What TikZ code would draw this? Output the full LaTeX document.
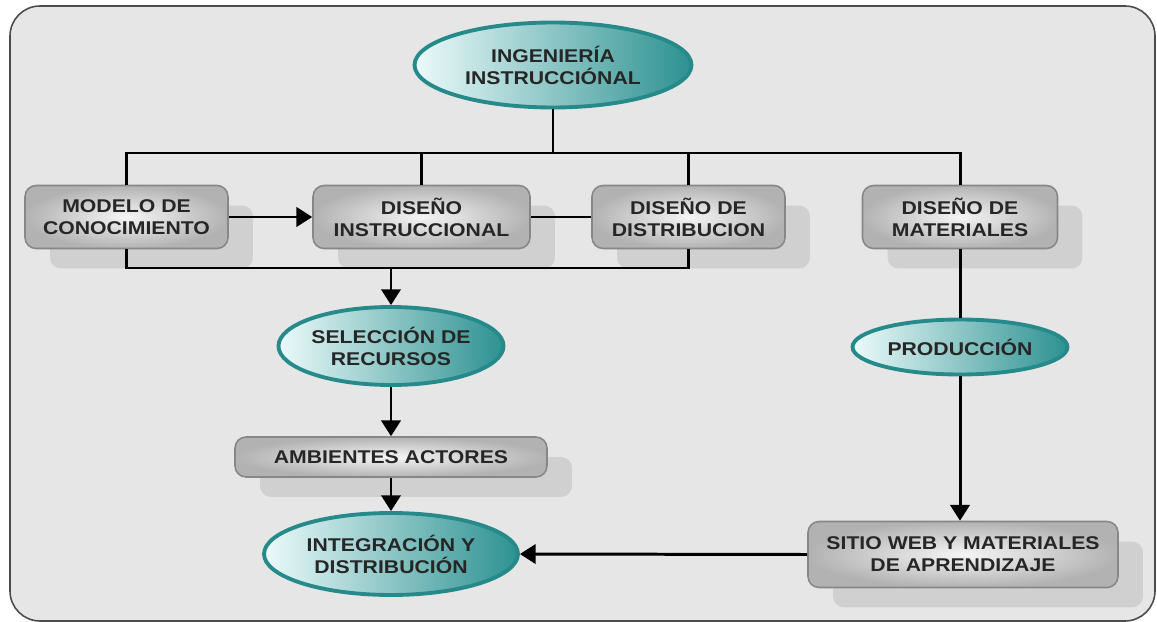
\documentclass[tikz,border=0pt]{standalone}
\usepackage{fontspec}
\setmainfont{Liberation Sans}[FakeStretch=1.15]
\usetikzlibrary{arrows.meta,shapes.geometric,shadows}
\definecolor{tealborder}{RGB}{38,138,138}
\definecolor{teallight}{RGB}{236,250,250}
\definecolor{tealdark}{RGB}{45,145,145}
\definecolor{txt}{RGB}{38,38,38}
\definecolor{boxborder}{RGB}{135,135,135}
\definecolor{bg}{RGB}{230,230,230}
\definecolor{shadowc}{RGB}{208,208,208}
\tikzset{
  lbl/.style={font=\fontsize{10.5}{12.5}\selectfont\bfseries, text=txt, align=center},
  oval/.style={lbl, ellipse, inner sep=0pt, draw=tealborder, line width=2.2pt,
    left color=teallight, right color=tealdark},
  gbox/.style={lbl, rectangle, rounded corners=0.22cm, inner sep=0pt, draw=boxborder, line width=0.9pt,
    inner color=black!4, outer color=black!30,
    general shadow={fill=shadowc, shadow xshift=0.5cm, shadow yshift=-0.4cm}},
  conn/.style={line width=1.7pt, black},
  arr/.style={conn, -{Triangle[length=9pt,width=11pt]}}
}
\begin{document}
\begin{tikzpicture}[x=0.02cm, y=-0.02cm]
\useasboundingbox (0,0) rectangle (1157,622);
\draw[rounded corners=0.6cm, fill=bg, draw=black!70, line width=0.9pt] (10,6) rectangle (1155,621);

\node[oval, minimum width=5.54cm, minimum height=1.7cm] (ing) at (553,65) {INGENIERÍA\\INSTRUCCIÓNAL};

\node[gbox, minimum width=4.06cm, minimum height=1.26cm] (modelo) at (126.5,217) {MODELO DE\\CONOCIMIENTO};
\node[gbox, minimum width=4.34cm, minimum height=1.26cm] (dinstr) at (421.5,217) {DISEÑO\\INSTRUCCIONAL};
\node[gbox, minimum width=3.86cm, minimum height=1.26cm] (ddist) at (688.5,217) {DISEÑO DE\\DISTRIBUCION};
\node[gbox, minimum width=3.9cm, minimum height=1.26cm] (dmat) at (960,217) {DISEÑO DE\\MATERIALES};

\node[oval, minimum width=4.44cm, minimum height=1.56cm] (sel) at (391,346) {SELECCIÓN DE\\RECURSOS};
\node[gbox, minimum width=6.24cm, minimum height=0.8cm] (amb) at (391,457) {AMBIENTES ACTORES};
\node[oval, minimum width=5.08cm, minimum height=1.64cm] (integ) at (391,554) {INTEGRACIÓN Y\\DISTRIBUCIÓN};

\node[oval, minimum width=4.3cm, minimum height=1.1cm] (prod) at (960,347) {PRODUCCIÓN};
\node[gbox, minimum width=6.2cm, minimum height=1.32cm] (sitio) at (963,554.5) {SITIO WEB Y MATERIALES\\DE APRENDIZAJE};

\coordinate (b1) at (553,153);
\coordinate (b2) at (391,268);

\draw[conn] (ing.south) -- (b1);
\draw[conn] (modelo.north) -- (modelo.north |- b1) -- (dmat.north |- b1) -- (dmat.north);
\draw[conn] (dinstr.north) -- (dinstr.north |- b1);
\draw[conn] (ddist.north) -- (ddist.north |- b1);
\draw[arr] (modelo.east) -- (dinstr.west);
\draw[conn] (dinstr.east) -- (ddist.west);
\draw[conn] (modelo.south) -- (modelo.south |- b2) -- (ddist.south |- b2) -- (ddist.south);
\draw[arr] (b2) -- (sel.north);
\draw[arr] (sel.south) -- (amb.north);
\draw[arr] (amb.south) -- (integ.north);
\draw[conn] (dmat.south) -- (prod.north);
\draw[arr] (prod.south) -- (prod.south |- sitio.north);
\draw[arr] (sitio.west) -- (integ.east);
\end{tikzpicture}
\end{document}
